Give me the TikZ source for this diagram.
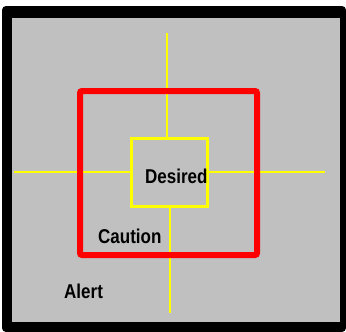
\documentclass[tikz,border=0pt]{standalone}
\usepackage{fontspec}
\setmainfont{Liberation Sans}
\newfontfamily\lblfont[FakeStretch=0.85]{Liberation Sans}
\usetikzlibrary{positioning}
\definecolor{framebk}{RGB}{0,0,0}
\definecolor{panel}{RGB}{192,192,192}
\definecolor{zonered}{RGB}{255,0,0}
\definecolor{crossyel}{RGB}{255,255,0}
\tikzset{
  lbl/.style={anchor=base west, inner sep=0pt,
    font=\fontsize{20}{24}\selectfont\lblfont\bfseries, text=black},
  hair/.style={draw=crossyel, line width=2.5pt},
  desiredbox/.style={draw=crossyel, line width=3pt},
  cautionbox/.style={draw=zonered, line width=6pt, rounded corners=2pt},
}

\begin{document}
\begin{tikzpicture}[x=1pt,y=-1pt]
  \useasboundingbox (0,0) rectangle (346,332);

  % frame and panel
  \fill[framebk, rounded corners=4pt] (2,6) rectangle (346,332);
  \fill[panel] (12,18) rectangle (340,322);

  % crosshair, from the desired box outwards
  \coordinate (dnw) at (131,138);
  \coordinate (dse) at (207,206);
  \coordinate (htop) at (167,33);
  \coordinate (hbot) at (170,313);
  \coordinate (hlft) at (14,172);
  \coordinate (hrgt) at (325,172);
  \draw[hair] (htop) -- (htop |- dnw);
  \draw[hair] (hbot |- dse) -- (hbot);
  \draw[hair] (hlft) -- (hlft -| dnw);
  \draw[hair] (hrgt -| dse) -- (hrgt);
  \draw[desiredbox] (dnw) rectangle (dse);

  % caution zone
  \draw[cautionbox] (80,91) rectangle (257,255);

  \node[lbl] (desired) at (145,183) {Desired};
  \node[lbl] (caution) at (98,243) {Caution};
  \node[lbl] (alert) at (64,298) {Alert};
\end{tikzpicture}
\end{document}
